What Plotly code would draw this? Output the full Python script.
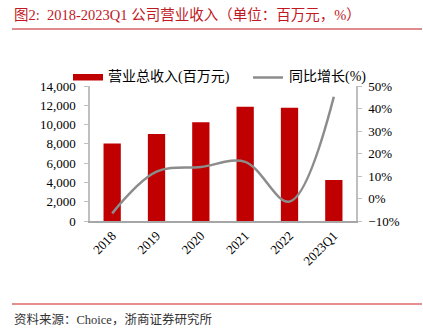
import plotly.graph_objects as go

categories = ["2018", "2019", "2020", "2021", "2022", "2023Q1"]
revenue = [8050, 9020, 10230, 11850, 11750, 4250]
growth = [-6.6, 11.9, 14.0, 16.3, -1.4, 45.2]

title_text = "图2:  2018-2023Q1 公司营业收入（单位：百万元，%）"
source_text = "资料来源：Choice，浙商证券研究所"
legend_bar = "营业总收入(百万元)"
legend_line = "同比增长(%)"

W, H = 423, 336
L, R, T, B = 90, 67, 86, 115
FONT = "Liberation Serif, Times New Roman, Noto Sans CJK SC, serif"
RED = "#C00000"
GRAY = "#8C8C8C"

fig = go.Figure()
fig.add_trace(go.Bar(x=categories, y=revenue, marker=dict(color=RED, line=dict(width=0)),
                     width=0.39, showlegend=False, yaxis="y"))
fig.add_trace(go.Scatter(x=categories, y=growth, mode="lines",
                         line=dict(color=GRAY, width=2.5, shape="spline", smoothing=1.0),
                         showlegend=False, yaxis="y2"))

fig.update_layout(
    width=W, height=H,
    margin=dict(l=L, r=R, t=T, b=B, pad=0),
    paper_bgcolor="white", plot_bgcolor="white",
    font=dict(family=FONT, size=13, color="#000000"),
    xaxis=dict(type="category", showgrid=False, showline=True, linecolor="#A6A6A6", linewidth=2,
               ticks="", tickangle=-45, tickfont=dict(family=FONT, size=13), zeroline=False),
    yaxis=dict(range=[0, 14000], dtick=2000, tickformat=",", showgrid=False, zeroline=False,
               showline=True, linecolor="#BFBFBF", linewidth=1.5, ticks="outside", ticklen=4,
               tickcolor="#BFBFBF", ticklabelstandoff=6, tickfont=dict(family=FONT, size=13)),
    yaxis2=dict(range=[-10, 50], dtick=10, ticksuffix="%", overlaying="y", side="right",
                showgrid=False, zeroline=False, showline=True, linecolor="#BFBFBF", linewidth=1.5,
                ticks="outside", ticklen=4, tickcolor="#BFBFBF", ticklabelstandoff=4,
                tickfont=dict(family=FONT, size=13)),
)

pw = W - L - R
ph = H - T - B

def ax_x(p):
    return (p - L) / pw

def ax_y(p):
    return (H - B - p) / ph

shapes = [
    dict(type="line", xref="paper", yref="paper", x0=ax_x(12), x1=ax_x(422),
         y0=ax_y(29), y1=ax_y(29), line=dict(color="#C0191F", width=1)),
    dict(type="line", xref="paper", yref="paper", x0=ax_x(12), x1=ax_x(422),
         y0=ax_y(304), y1=ax_y(304), line=dict(color="#E88E8E", width=2)),
    dict(type="rect", xref="paper", yref="paper", x0=ax_x(73), x1=ax_x(103),
         y0=ax_y(80.5), y1=ax_y(74), fillcolor=RED, line=dict(width=0)),
    dict(type="line", xref="paper", yref="paper", x0=ax_x(253), x1=ax_x(283),
         y0=ax_y(77.5), y1=ax_y(77.5), line=dict(color=GRAY, width=2.5)),
]

annotations = [
    dict(text=title_text, xref="paper", yref="paper", x=ax_x(12), y=ax_y(15), xanchor="left",
         yanchor="middle", showarrow=False, font=dict(family=FONT, size=14.5, color="#C0191F")),
    dict(text=source_text, xref="paper", yref="paper", x=ax_x(12), y=ax_y(319), xanchor="left",
         yanchor="middle", showarrow=False, font=dict(family=FONT, size=12.5, color="#333333")),
    dict(text=legend_bar, xref="paper", yref="paper", x=ax_x(106), y=ax_y(77), xanchor="left",
         yanchor="middle", showarrow=False, font=dict(family=FONT, size=14, color="#000000")),
    dict(text=legend_line, xref="paper", yref="paper", x=ax_x(287), y=ax_y(77), xanchor="left",
         yanchor="middle", showarrow=False, font=dict(family=FONT, size=14, color="#000000")),
]
fig.update_layout(shapes=shapes, annotations=annotations)

fig.write_html("out.html")
